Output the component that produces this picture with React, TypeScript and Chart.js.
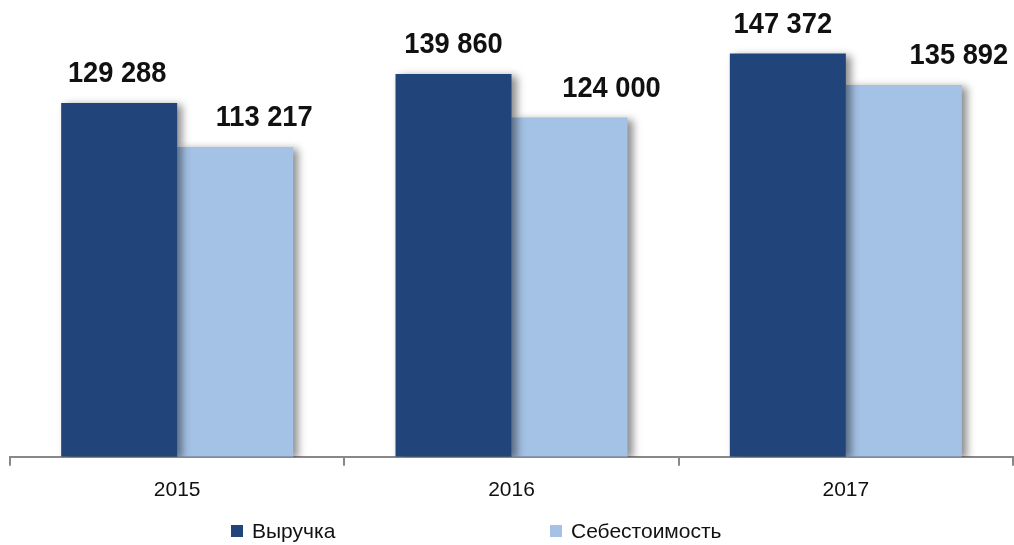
import React, { useEffect, useRef } from "react";
import { Chart, registerables } from "chart.js";

Chart.register(...registerables);

const years = ["2015", "2016", "2017"];
const revenue = [129288, 139860, 147372];
const cost = [113217, 124000, 135892];
const seriesNames = ["Выручка", "Себестоимость"];

const DARK = "#21457A";
const LIGHT = "#A4C2E6";
// label horizontal nudges (px), styling only
const labelShift = [
  [-2, 0, -5],
  [29, 42, 55],
];

const fmt = (v: number) => {
  const s = String(v);
  return s.replace(/\B(?=(\d{3})+(?!\d))/g, " ");
};

const shadowPlugin = {
  id: "barShadow",
  beforeDatasetDraw(chart: any) {
    const ctx = chart.ctx;
    ctx.save();
    ctx.shadowColor = "rgba(0,0,0,0.45)";
    ctx.shadowBlur = 8;
    ctx.shadowOffsetX = 5;
    ctx.shadowOffsetY = 2;
  },
  afterDatasetDraw(chart: any) {
    chart.ctx.restore();
  },
};

const labelPlugin = {
  id: "valueLabels",
  afterDatasetsDraw(chart: any) {
    const ctx = chart.ctx;
    chart.data.datasets.forEach((ds: any, di: number) => {
      const meta = chart.getDatasetMeta(di);
      meta.data.forEach((bar: any, i: number) => {
        ctx.save();
        ctx.translate(bar.x + labelShift[di][i], bar.y - 29);
        ctx.scale(0.94, 1);
        ctx.font = "bold 29px 'Liberation Sans', Arial, sans-serif";
        ctx.fillStyle = "#111";
        ctx.textAlign = "center";
        ctx.textBaseline = "middle";
        ctx.fillText(fmt(ds.data[i]), 0, 0);
        ctx.restore();
      });
    });
  },
};

export default function App() {
  const ref = useRef<HTMLCanvasElement>(null);
  useEffect(() => {
    if (!ref.current) return;
    const chart = new Chart(ref.current, {
      type: "bar",
      data: {
        labels: years,
        datasets: [
          { label: seriesNames[0], data: revenue, backgroundColor: DARK, borderWidth: 0 },
          { label: seriesNames[1], data: cost, backgroundColor: LIGHT, borderWidth: 0 },
        ],
      },
      options: {
        animation: false,
        responsive: false,
        maintainAspectRatio: false,
        layout: { padding: { left: 10, right: 1, top: 19, bottom: 30 } },
        datasets: { bar: { barPercentage: 1, categoryPercentage: 0.694 } },
        plugins: { legend: { display: false }, tooltip: { enabled: false } },
        scales: {
          x: {
            grid: {
              display: true,
              drawOnChartArea: false,
              drawTicks: true,
              tickLength: 9,
              color: "#888",
              lineWidth: 2,
            },
            border: { display: true, color: "#888", width: 2 },
            ticks: {
              color: "#111",
              padding: 12,
              font: { family: "'Liberation Sans', Arial, sans-serif", size: 21 },
            },
          },
          y: { display: false, min: 0, max: 160000 },
        },
      },
      plugins: [shadowPlugin, labelPlugin],
    });
    return () => chart.destroy();
  }, []);

  const legendItem = (left: number, color: string, text: string) => (
    <div
      style={{
        position: "absolute",
        left,
        top: 519,
        height: 24,
        display: "flex",
        alignItems: "center",
        fontFamily: "'Liberation Sans', Arial, sans-serif",
        fontSize: 21,
        color: "#111",
        whiteSpace: "nowrap",
      }}
    >
      <span style={{ display: "inline-block", width: 12, height: 12, background: color, marginRight: 9 }} />
      {text}
    </div>
  );

  return (
    <div style={{ position: "absolute", left: 0, top: 0, width: 1014, height: 545, background: "#fff" }}>
      <canvas ref={ref} width={1014} height={545} style={{ display: "block" }} />
      {legendItem(231, DARK, seriesNames[0])}
      {legendItem(550, LIGHT, seriesNames[1])}
    </div>
  );
}
